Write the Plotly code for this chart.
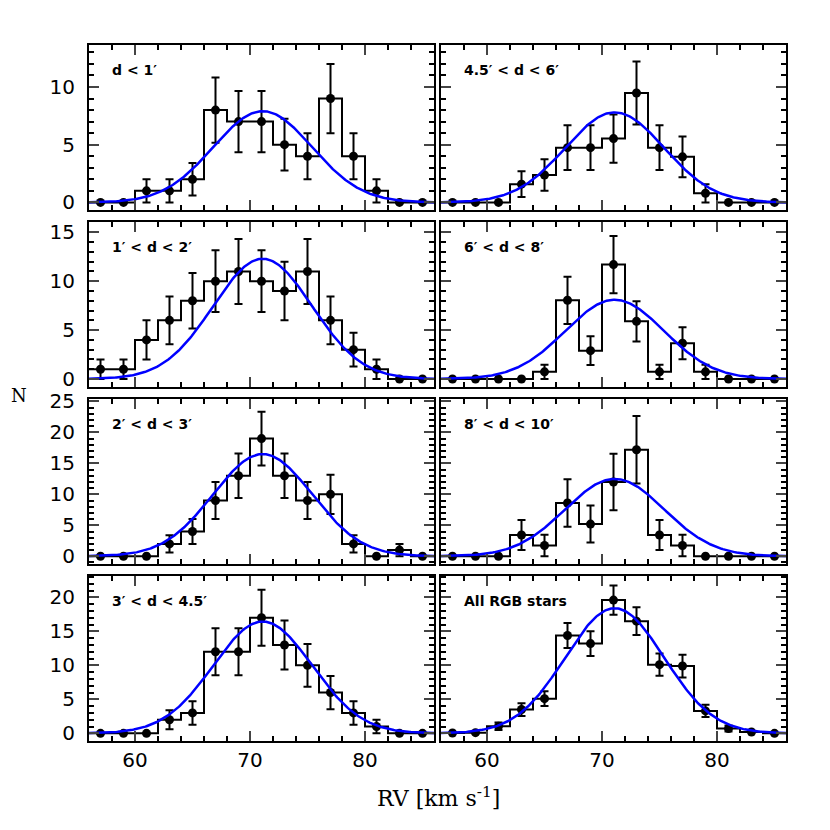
import numpy as np
import plotly.graph_objects as go
from plotly.subplots import make_subplots

# bin centres (km/s), width 2
rv_bins = [57, 59, 61, 63, 65, 67, 69, 71, 73, 75, 77, 79, 81, 83, 85]

panel_labels = ["d < 1′", "4.5′ < d < 6′",
                "1′ < d < 2′", "6′ < d < 8′",
                "2′ < d < 3′", "8′ < d < 10′",
                "3′ < d < 4.5′", "All RGB stars"]

n_d1 = [0, 0, 1, 1, 2, 8, 7, 7, 5, 4, 9, 4, 1, 0, 0]
e_d1 = [0, 0, 1, 1, 1.41, 2.83, 2.65, 2.65, 2.24, 2, 3, 2, 1, 0, 0]

n_d45_6 = [0, 0, 0, 1.58, 2.37, 4.74, 4.74, 5.53, 9.48, 4.74, 3.95, 0.79, 0, 0, 0]
e_d45_6 = [0, 0, 0, 1.12, 1.37, 1.94, 1.94, 2.09, 2.74, 1.94, 1.77, 0.79, 0, 0, 0]

n_d1_2 = [1, 1, 4, 6, 8, 10, 11, 10, 9, 11, 6, 3, 1, 0, 0]
e_d1_2 = [1, 1, 2, 2.45, 2.83, 3.16, 3.32, 3.16, 3, 3.32, 2.45, 1.73, 1, 0, 0]

n_d6_8 = [0, 0, 0, 0, 0.73, 8.05, 2.9, 11.7, 5.9, 0.73, 3.66, 0.73, 0, 0, 0]
e_d6_8 = [0, 0, 0, 0, 0.73, 2.42, 1.46, 2.92, 2.06, 0.73, 1.63, 0.73, 0, 0, 0]

n_d2_3 = [0, 0, 0, 2, 4, 9, 13, 19, 13, 9, 10, 2, 0, 1, 0]
e_d2_3 = [0, 0, 0, 1.41, 2, 3, 3.61, 4.36, 3.61, 3, 3.16, 1.41, 0, 1, 0]

n_d8_10 = [0, 0, 0, 3.43, 1.74, 8.6, 5.2, 12.0, 17.2, 3.43, 1.74, 0, 0, 0, 0]
e_d8_10 = [0, 0, 0, 2.43, 1.72, 3.85, 2.98, 4.55, 5.44, 2.43, 1.72, 0, 0, 0, 0]

n_d3_45 = [0, 0, 0, 2, 3, 12, 12, 17, 13, 10, 6, 3, 1, 0, 0]
e_d3_45 = [0, 0, 0, 1.41, 1.73, 3.46, 3.46, 4.12, 3.61, 3.16, 2.45, 1.73, 1, 0, 0]

n_all = [0.05, 0.1, 1.03, 3.5, 5.1, 14.4, 13.2, 19.6, 16.5, 10.1, 9.9, 3.3, 0.7, 0.2, 0]
e_all = [0, 0, 0.55, 0.94, 1.08, 1.85, 1.82, 2.17, 2.04, 1.63, 1.67, 0.91, 0.44, 0, 0]

# gaussian fits: mean, sigma, peak
fit_mean = [71.1, 71.1, 71.1, 71.1, 71.1, 71.1, 71.1, 71.1]
fit_sigma = [4.3, 4.3, 4.3, 4.3, 4.3, 4.3, 4.3, 4.3]
fit_peak = [7.9, 7.8, 12.3, 8.1, 16.5, 12.5, 16.45, 18.4]

row_ranges = [[-0.66, 13.64], [-0.82, 16.06], [-1.25, 25.4], [-1.13, 23.15]]

counts = [n_d1, n_d45_6, n_d1_2, n_d6_8, n_d2_3, n_d8_10, n_d3_45, n_all]
errors = [e_d1, e_d45_6, e_d1_2, e_d6_8, e_d2_3, e_d8_10, e_d3_45, e_all]

fig = make_subplots(rows=4, cols=2, horizontal_spacing=7/697, vertical_spacing=12/696)

edges = [c - 1 for c in rv_bins] + [rv_bins[-1] + 1]
xs = np.linspace(56, 86, 301)

for i in range(8):
    r, c = i // 2 + 1, i % 2 + 1
    n = counts[i]
    # step outline
    fig.add_trace(go.Scatter(x=edges, y=n + [n[-1]], mode="lines", line_shape="hv",
                             line=dict(color="black", width=2), showlegend=False,
                             hoverinfo="skip"), row=r, col=c)
    err = [e if e > 0 else None for e in errors[i]]
    fig.add_trace(go.Scatter(x=rv_bins, y=n, mode="markers",
                             marker=dict(color="black", size=9),
                             error_y=dict(type="data", array=err, color="black",
                                          thickness=2, width=4),
                             showlegend=False), row=r, col=c)
    gy = fit_peak[i] * np.exp(-0.5 * ((xs - fit_mean[i]) / fit_sigma[i]) ** 2)
    fig.add_trace(go.Scatter(x=xs, y=gy, mode="lines",
                             line=dict(color="#0000ff", width=2.5),
                             showlegend=False, hoverinfo="skip"), row=r, col=c)
    fig.add_annotation(text="<b>" + panel_labels[i] + "</b>", xref="x%s domain" % ("" if i == 0 else i + 1),
                       yref="y%s domain" % ("" if i == 0 else i + 1), x=0.06, y=0.85,
                       xanchor="left", yanchor="middle", showarrow=False,
                       font=dict(family="DejaVu Sans", size=14, color="black"))

fig.update_xaxes(range=[56, 86], dtick=10, tick0=0, ticks="inside", ticklen=10, tickwidth=2,
                 showline=True, linewidth=2, linecolor="black", mirror="allticks",
                 showgrid=False, zeroline=False,
                 minor=dict(ticks="inside", ticklen=5, dtick=2, tick0=0, tickwidth=1.5, tickcolor="black", showgrid=False),
                 tickfont=dict(family="DejaVu Sans", size=20, color="black"))
fig.update_xaxes(showticklabels=False, row=1)
fig.update_xaxes(showticklabels=False, row=2)
fig.update_xaxes(showticklabels=False, row=3)

for r in range(1, 5):
    fig.update_yaxes(range=row_ranges[r - 1], row=r)

fig.update_yaxes(dtick=5, tick0=0, ticks="inside", ticklen=10, tickwidth=2,
                 showline=True, linewidth=2, linecolor="black", mirror="allticks",
                 showgrid=False, zeroline=False,
                 minor=dict(ticks="inside", ticklen=5, dtick=1, tick0=0, tickwidth=1.5, tickcolor="black", showgrid=False),
                 tickfont=dict(family="DejaVu Sans", size=20, color="black"), ticklabelstandoff=8)
fig.update_yaxes(showticklabels=False, col=2)

# page is offset by the 8px body margin
fig.add_annotation(text="RV [km s<sup>-1</sup>]", xref="paper", yref="paper",
                   x=(430 - 81)/697, y=-(789 - 733)/696, xanchor="center", yanchor="middle",
                   showarrow=False, font=dict(family="DejaVu Serif", size=22, color="black"))
fig.add_annotation(text="N", xref="paper", yref="paper",
                   x=(1 - 81)/697, y=(733 - 387)/696, xanchor="left", yanchor="middle",
                   showarrow=False, font=dict(family="DejaVu Serif", size=18, color="black"))

fig.update_layout(width=830, height=830, margin=dict(l=81, r=52, t=37, b=97),
                  plot_bgcolor="white", paper_bgcolor="white")

fig.write_html("out.html")
